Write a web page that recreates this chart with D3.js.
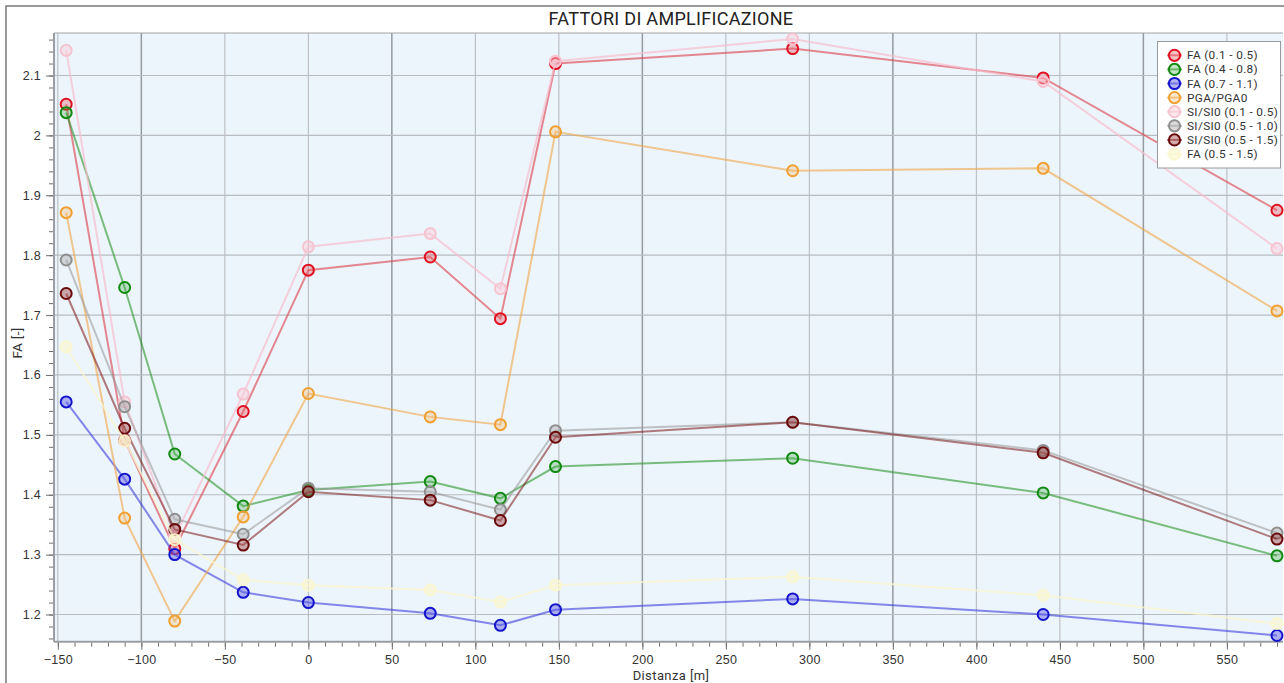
<!DOCTYPE html>
<html>
<head>
<meta charset="utf-8">
<script src="https://cdn.jsdelivr.net/npm/d3@7"></script>
<style>
  html, body { margin: 0; padding: 0; background: #ffffff; }
  svg { display: block; font-family: Roboto, "Open Sans", sans-serif; }
</style>
</head>
<body>
<svg id="chart" width="1284" height="683"></svg>
<script>
// Distances along the section [m]
const distances = [-145, -110, -80, -39, 0, 73, 115, 148, 290, 440, 580];

// Amplification factors per distance
const fa_01_05 = [2.052, 1.491, 1.310, 1.539, 1.775, 1.797, 1.694, 2.120, 2.145, 2.096, 1.875];
const fa_04_08 = [2.038, 1.746, 1.468, 1.381, 1.408, 1.422, 1.394, 1.447, 1.461, 1.403, 1.298];
const fa_07_11 = [1.555, 1.426, 1.300, 1.237, 1.220, 1.202, 1.182, 1.208, 1.226, 1.200, 1.165];
const pga_pga0 = [1.871, 1.361, 1.189, 1.363, 1.569, 1.530, 1.517, 2.006, 1.941, 1.945, 1.707];
const si_01_05 = [2.142, 1.555, 1.330, 1.568, 1.814, 1.836, 1.744, 2.124, 2.161, 2.090, 1.811];
const si_05_10 = [1.792, 1.547, 1.359, 1.334, 1.411, 1.405, 1.375, 1.507, 1.521, 1.474, 1.336];
const si_05_15 = [1.736, 1.511, 1.342, 1.316, 1.405, 1.391, 1.357, 1.496, 1.521, 1.470, 1.326];
const fa_05_15 = [1.647, 1.490, 1.325, 1.258, 1.249, 1.241, 1.221, 1.249, 1.263, 1.232, 1.185];

const seriesNames = ["FA (0.1 - 0.5)", "FA (0.4 - 0.8)", "FA (0.7 - 1.1)", "PGA/PGA0",
                     "SI/SI0 (0.1 - 0.5)", "SI/SI0 (0.5 - 1.0)", "SI/SI0 (0.5 - 1.5)", "FA (0.5 - 1.5)"];
const seriesValues = [fa_01_05, fa_04_08, fa_07_11, pga_pga0, si_01_05, si_05_10, si_05_15, fa_05_15];

// Axis ticks
const xMajorTicks = [-150, -100, -50, 0, 50, 100, 150, 200, 250, 300, 350, 400, 450, 500, 550];
const yMajorTicks = [1.2, 1.3, 1.4, 1.5, 1.6, 1.7, 1.8, 1.9, 2.0, 2.1];

const titleText = "FATTORI DI AMPLIFICAZIONE";
const xLabel = "Distanza [m]";
const yLabel = "FA [-]";

// Styling per series: marker stroke, marker fill, line colour
const styles = [
  { stroke: "#e01020", fill: "rgba(230,80,90,0.35)", line: "rgba(220,60,70,0.6)" },
  { stroke: "#128a12", fill: "rgba(60,170,60,0.3)", line: "rgba(40,150,40,0.6)" },
  { stroke: "#1414cc", fill: "rgba(90,90,230,0.45)", line: "rgba(60,60,220,0.6)" },
  { stroke: "#f0a030", fill: "rgba(245,180,90,0.3)", line: "rgba(240,165,70,0.6)" },
  { stroke: "#f6c4d0", fill: "rgba(250,205,215,0.45)", line: "rgba(246,190,205,0.7)" },
  { stroke: "#8f8f8f", fill: "rgba(170,170,170,0.45)", line: "rgba(150,150,150,0.55)" },
  { stroke: "#6a0a0a", fill: "rgba(160,70,70,0.45)", line: "rgba(120,20,20,0.55)" },
  { stroke: "rgba(250,246,205,0.9)", fill: "rgba(250,246,205,0.6)", line: "rgba(250,246,205,0.75)" }
];

const svg = d3.select("#chart");
const W = 1284, H = 683;
const plot = { left: 54, top: 33, right: 1283, bottom: 641.7 };

// Outer frame
svg.append("rect").attr("x", 6).attr("y", 6).attr("width", W + 10).attr("height", H + 10)
  .attr("fill", "#ffffff").attr("stroke", "#7a7a7a").attr("stroke-width", 1.5);

const x = d3.scaleLinear().domain([-152.3, 583.6]).range([plot.left, plot.right]);
const y = d3.scaleLinear().domain([1.1546, 2.171]).range([plot.bottom, plot.top]);

// Plot background
svg.append("rect").attr("x", plot.left).attr("y", plot.top)
  .attr("width", plot.right - plot.left).attr("height", plot.bottom - plot.top)
  .attr("fill", "#edf5fc");

// Grid
const grid = svg.append("g");
grid.selectAll(".vg").data(xMajorTicks).join("line")
  .attr("x1", d => x(d)).attr("x2", d => x(d))
  .attr("y1", plot.top).attr("y2", plot.bottom)
  .attr("stroke", d => ((d - 50) % 150 === 0) ? "#959aa0" : "#b8bcc1")
  .attr("stroke-width", d => ((d - 50) % 150 === 0) ? 1.5 : 1.1);
grid.selectAll(".hg").data(yMajorTicks).join("line")
  .attr("x1", plot.left).attr("x2", plot.right)
  .attr("y1", d => y(d)).attr("y2", d => y(d))
  .attr("stroke", "#b8bcc1").attr("stroke-width", 1.2);

// Plot frame lines
svg.append("line").attr("x1", plot.left).attr("x2", plot.right).attr("y1", plot.top).attr("y2", plot.top)
  .attr("stroke", "#a0a4a8").attr("stroke-width", 1);
svg.append("line").attr("x1", plot.left).attr("x2", plot.left).attr("y1", plot.top).attr("y2", plot.bottom)
  .attr("stroke", "#9a9ea2").attr("stroke-width", 2);
svg.append("line").attr("x1", plot.left).attr("x2", plot.right).attr("y1", plot.bottom).attr("y2", plot.bottom)
  .attr("stroke", "#9a9ea2").attr("stroke-width", 2);

// Axes
const xMinor = d3.range(-150, 581, 10);
const yMinor = d3.range(58, 109, 1).map(v => v / 50);
const axisFont = "12.5px";

const xAxisMinor = d3.axisBottom(x).tickValues(xMinor).tickSize(4).tickFormat("");
const xAxis = d3.axisBottom(x).tickValues(xMajorTicks).tickSize(7).tickPadding(5).tickFormat(d3.format("d"));
const yAxisMinor = d3.axisLeft(y).tickValues(yMinor).tickSize(4).tickFormat("");
const yAxis = d3.axisLeft(y).tickValues(yMajorTicks).tickSize(7).tickPadding(5).tickFormat(d => String(+d.toFixed(1)));

function styleAxis(g) {
  g.select(".domain").remove();
  g.selectAll("line").attr("stroke", "#707070");
  g.selectAll("text").attr("fill", "#333333").style("font-size", axisFont)
    .style("letter-spacing", "0.3px");
}
svg.append("g").attr("transform", `translate(0,${plot.bottom + 1})`).call(xAxisMinor).call(styleAxis);
svg.append("g").attr("transform", `translate(0,${plot.bottom + 1})`).call(xAxis).call(styleAxis);
svg.append("g").attr("transform", `translate(${plot.left - 1},0)`).call(yAxisMinor).call(styleAxis);
svg.append("g").attr("transform", `translate(${plot.left - 1},0)`).call(yAxis).call(styleAxis);

// Series
const line = d3.line().x((d, i) => x(distances[i])).y(d => y(d));
const seriesG = svg.append("g");
seriesValues.forEach((vals, k) => {
  const s = styles[k];
  const g = seriesG.append("g");
  g.append("path").datum(vals).attr("d", line)
    .attr("fill", "none").attr("stroke", s.line).attr("stroke-width", 2);
  g.selectAll("circle").data(vals).join("circle")
    .attr("cx", (d, i) => x(distances[i])).attr("cy", d => y(d)).attr("r", 5.5)
    .attr("fill", s.fill).attr("stroke", s.stroke).attr("stroke-width", 2);
});

// Title and axis labels
svg.append("text").attr("x", 671).attr("y", 25).attr("text-anchor", "middle")
  .style("font-size", "18px").style("letter-spacing", "0.3px").attr("fill", "#222").text(titleText);
svg.append("text").attr("x", 671).attr("y", 679.8).attr("text-anchor", "middle")
  .style("font-size", "13px").style("letter-spacing", "0.4px").attr("fill", "#333").text(xLabel);
svg.append("text").attr("transform", "translate(22,343) rotate(-90)").attr("text-anchor", "middle")
  .style("font-size", "13.5px").style("letter-spacing", "0.3px").attr("fill", "#333").text(yLabel);

// Legend
const lg = svg.append("g");
lg.append("rect").attr("x", 1157.5).attr("y", 41.5).attr("width", 123).attr("height", 126.5)
  .attr("fill", "#ffffff").attr("stroke", "#9a9a9a").attr("stroke-width", 1);
seriesNames.forEach((name, k) => {
  const s = styles[k];
  const cy = 55.3 + k * 14.1;
  lg.append("line").attr("x1", 1167).attr("x2", 1182).attr("y1", cy).attr("y2", cy)
    .attr("stroke", s.line).attr("stroke-width", 2);
  lg.append("circle").attr("cx", 1174.5).attr("cy", cy).attr("r", 5.6)
    .attr("fill", s.fill).attr("stroke", s.stroke).attr("stroke-width", 2);
  lg.append("text").attr("x", 1187).attr("y", cy + 4).style("font-size", "11.8px")
    .style("letter-spacing", "0.35px").attr("fill", "#333").text(name);
});
</script>
</body>
</html>
